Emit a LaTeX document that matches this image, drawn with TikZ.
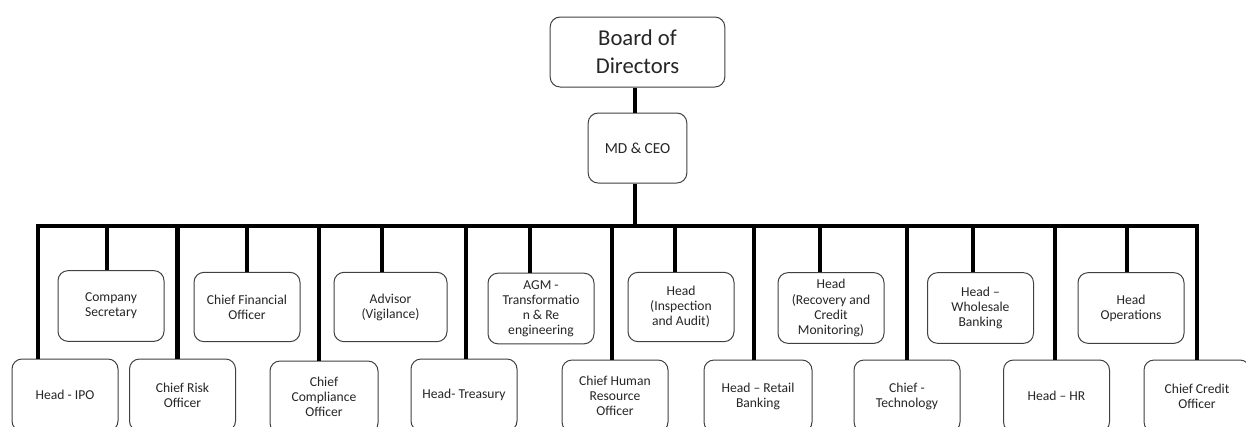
\documentclass[tikz,border=0pt]{standalone}
\usepackage{fontspec}
\setmainfont{Carlito}
\begin{document}
\begin{tikzpicture}[x=0.75pt,y=-0.75pt,
  box/.style={draw=black!75, line width=0.75pt, rounded corners=7.5pt, align=center,
    inner sep=0pt, text=black!85, font=\fontsize{10.2}{11.3}\selectfont},
  up/.style={box, minimum width=79.5pt, minimum height=53pt},
  low/.style={box, minimum width=79.5pt, minimum height=54pt},
  conn/.style={line width=3.6pt, black, line join=miter}]
\useasboundingbox (0,0) rectangle (1246,426);
\clip (0,0) rectangle (1246,426);
\fill[white] (0,0) rectangle (1246,426);
% top
\node[box, minimum width=131pt, minimum height=52.5pt, font=\fontsize{17}{21}\selectfont] (bod) at (637.5,52) {Board of\\Directors};
\node[box, minimum width=74pt, minimum height=52.5pt, font=\fontsize{11.5}{13}\selectfont] (md) at (637.5,148) {MD \& CEO};
\coordinate (bus) at (635,226);
% upper row
\node[up] (cs)   at (111,306)   {Company\\Secretary};
\node[up, minimum height=52pt] (cfo)  at (247,307)   {Chief Financial\\Officer};
\node[up, minimum width=84.75pt, minimum height=52pt] (adv) at (390.5,307) {Advisor\\(Vigilance)};
\node[up] (agm)  at (541,308.5) {AGM -\\Transformatio\\n \& Re\\engineering};
\node[up, minimum height=52pt] (insp) at (681,307)   {Head\\(Inspection\\and Audit)};
\node[up] (rec)  at (831,308)   {Head\\(Recovery and\\Credit\\Monitoring)};
\node[up] (whs)  at (980.5,308) {Head --\\Wholesale\\Banking};
\node[up] (ops)  at (1131,308)  {Head\\Operations};
% lower row
\node[low] (ipo)  at (65,395)    {Head - IPO};
\node[low] (risk) at (182.5,395) {Chief Risk\\Officer};
\node[low, minimum width=81pt] (comp) at (324,397) {Chief\\Compliance\\Officer};
\node[low] (tre)  at (464,395)   {Head- Treasury};
\node[low] (chro) at (615,396)   {Chief Human\\Resource\\Officer};
\node[low, minimum width=81pt] (ret)  at (758,396) {Head -- Retail\\Banking};
\node[low] (tech) at (907,396)   {Chief -\\Technology};
\node[low] (hr)   at (1056.5,396) {Head -- HR};
\node[low] (cco)  at (1197,396)  {Chief Credit\\Officer};
% connectors
\draw[conn] (bod.south -| bus) -- (md.north -| bus);
\draw[conn] (md.south -| bus) -- (bus);
\draw[conn] ([xshift=-20.25pt]ipo.north) |- (bus) -| (cco.north);
\draw[conn] ([xshift=-3pt]cs.north) -- ([xshift=-3pt]cs.north |- bus);
\draw[conn] (cfo.north) -- (cfo.north |- bus);
\draw[conn] ([xshift=-6.4pt]adv.north) -- ([xshift=-6.4pt]adv.north |- bus);
\draw[conn] ([xshift=-8.25pt]agm.north) -- ([xshift=-8.25pt]agm.north |- bus);
\draw[conn] ([xshift=-4.5pt]insp.north) -- ([xshift=-4.5pt]insp.north |- bus);
\draw[conn] ([xshift=-8.25pt]rec.north) -- ([xshift=-8.25pt]rec.north |- bus);
\draw[conn] ([xshift=-5.6pt]whs.north) -- ([xshift=-5.6pt]whs.north |- bus);
\draw[conn] ([xshift=-3pt]ops.north) -- ([xshift=-3pt]ops.north |- bus);
\draw[conn] ([xshift=-4pt]risk.north) -- ([xshift=-4pt]risk.north |- bus);
\draw[conn] ([xshift=-3.75pt]comp.north) -- ([xshift=-3.75pt]comp.north |- bus);
\draw[conn] ([xshift=1.5pt]tre.north) -- ([xshift=1.5pt]tre.north |- bus);
\draw[conn] ([xshift=-2.25pt]chro.north) -- ([xshift=-2.25pt]chro.north |- bus);
\draw[conn] ([xshift=-3pt]ret.north) -- ([xshift=-3pt]ret.north |- bus);
\draw[conn] (tech.north) -- (tech.north |- bus);
\draw[conn] ([xshift=-1.1pt]hr.north) -- ([xshift=-1.1pt]hr.north |- bus);
\end{tikzpicture}
\end{document}
